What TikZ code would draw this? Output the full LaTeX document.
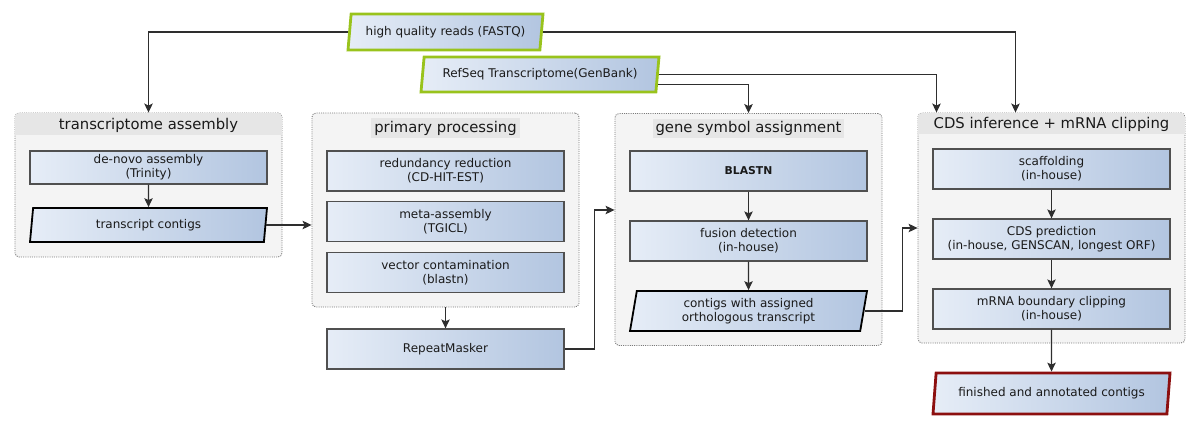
\documentclass[tikz,border=0pt]{standalone}
\usepackage{fontspec}
\setmainfont{DejaVu Sans}
\usetikzlibrary{shapes.geometric,calc,arrows.meta}
\definecolor{gradL}{HTML}{E6EDF7}
\definecolor{gradR}{HTML}{B2C5E0}
\definecolor{boxln}{HTML}{505050}
\definecolor{grpfl}{HTML}{F4F4F4}
\definecolor{grpbd}{HTML}{E6E6E6}
\definecolor{grpln}{HTML}{7A7A7A}
\definecolor{inpln}{HTML}{99C31C}
\definecolor{outln}{HTML}{8C0F0F}
\definecolor{conln}{HTML}{2E2E2E}
\definecolor{txt}{HTML}{1A1A1A}
\newcommand\bxf{\fontsize{12}{13.8}\selectfont}
\newcommand\bxbf{\fontsize{10.8}{13.8}\selectfont\bfseries}
\newcommand\hdf{\fontsize{14.8}{17}\selectfont}
\begin{document}
\begin{tikzpicture}[x=1pt,y=-1pt,
  grp/.style={draw=grpln, line width=0.9pt, dash pattern=on 1pt off 1.2pt, fill=grpfl, rounded corners=4pt, minimum width=267pt, inner sep=0pt},
  head/.style={font=\hdf, text=txt, inner sep=0pt},
  headbg/.style={head, fill=grpbd, inner xsep=3pt, inner ysep=2.5pt},
  procbox/.style={draw=boxln, line width=1.3pt, left color=gradL, right color=gradR, minimum width=237pt, minimum height=40pt, align=center, font=\bxf, text=txt, inner sep=0pt},
  para/.style={trapezium, trapezium left angle=75, trapezium right angle=105, trapezium stretches body, left color=gradL, right color=gradR, minimum width=237pt, minimum height=40pt, align=center, font=\bxf, text=txt, inner sep=0pt},
  datapara/.style={para, draw=black, line width=1.8pt},
  inpara/.style={para, draw=inpln, line width=2.8pt},
  outpara/.style={para, draw=outln, line width=2.8pt},
  conn/.style={draw=conln, line width=1.1pt, -{Stealth[length=9pt,width=8.5pt,inset=2pt]}},
]
\useasboundingbox (0,0) rectangle (1201,430);

% ---------- groups ----------
\node[grp, minimum height=144pt] (gt) at (148.5,185) {};
\node[grp, minimum height=194pt] (gp) at (445.5,210) {};
\node[grp, minimum height=232pt] (gg) at (748.5,229.5) {};
\node[grp, minimum height=230pt] (gc) at (1051.5,228) {};

% full-width title bands
\begin{scope}
  \clip[rounded corners=3.5pt] ($(gt.north west)+(0.6,0.6)$) rectangle ($(gt.south east)+(-0.6,-0.6)$);
  \fill[grpbd] (gt.north west) rectangle ($(gt.north east)+(0,22)$);
\end{scope}
\begin{scope}
  \clip[rounded corners=3.5pt] ($(gc.north west)+(0.6,0.6)$) rectangle ($(gc.south east)+(-0.6,-0.6)$);
  \fill[grpbd] (gc.north west) rectangle ($(gc.north east)+(0,21)$);
\end{scope}

\node[head] (ht) at ($(gt.north)+(0,13)$) {transcriptome assembly};
\node[headbg] (hp) at ($(gp.north)+(0,15.5)$) {primary processing};
\node[headbg] (hg) at ($(gg.north)+(0,15.5)$) {gene symbol assignment};
\node[head] (hc) at ($(gc.north)+(0,11.5)$) {CDS inference + mRNA clipping};

% ---------- inputs ----------
\node[inpara, minimum width=195pt, minimum height=36pt] (hq) at (445.5,32) {high quality reads (FASTQ)};
\node[inpara, minimum width=238pt, minimum height=35pt] (ref) at (540,74.5) {RefSeq Transcriptome(GenBank)};

% ---------- transcriptome assembly ----------
\node[procbox, minimum height=33pt] (dn) at (148.5,167.5) {de-novo assembly\\(Trinity)};
\node[datapara, minimum height=34pt] (tc) at (148.5,225) {transcript contigs};

% ---------- primary processing ----------
\node[procbox] (rr) at (445.5,171) {redundancy reduction\\(CD-HIT-EST)};
\node[procbox] (mr) at (445.5,221.5) {meta-assembly\\(TGICL)};
\node[procbox] (vc) at (445.5,272.5) {vector contamination\\(blastn)};
\node[procbox] (rm) at (445.5,349) {RepeatMasker};

% ---------- gene symbol assignment ----------
\node[procbox, font=\bxbf] (bl) at (748.5,171) {BLASTN};
\node[procbox] (fd) at (748.5,241) {fusion detection\\(in-house)};
\node[datapara] (ca) at (748.5,311) {contigs with assigned\\orthologous transcript};

% ---------- CDS inference ----------
\node[procbox] (sc) at (1051.5,169) {scaffolding\\(in-house)};
\node[procbox] (cp) at (1051.5,239) {CDS prediction\\(in-house, GENSCAN, longest ORF)};
\node[procbox] (mb) at (1051.5,309) {mRNA boundary clipping\\(in-house)};
\node[outpara, minimum height=41pt] (fin) at (1051.5,393.5) {finished and annotated contigs};

% ---------- connectors ----------
\draw[conn] (hq.west) -| (gt.north);
\draw[conn] (hq.east) -| ($(gc.north)+(-36,0)$);
\draw[conn] (ref.east) -| ($(gc.north)+(-115,0)$);
\coordinate (refb) at ($(ref.top right corner)!0.77!(ref.bottom right corner)$);
\draw[conn] (refb) -| (gg.north);

\draw[conn] (dn.south) -- (tc.north);
\draw[conn] (tc.east) -- (tc.east -| gp.west);
\draw[conn] (gp.south) -- (rm.north);
\draw[conn] (rm.east) -- ++(30,0) |- ($(gg.west)+(0,-19.5)$);

\draw[conn] (bl.south) -- (fd.north);
\draw[conn] (fd.south) -- (ca.north);
\draw[conn] (ca.east) -- ++(38,0) |- (gc.west);

\draw[conn] (sc.south) -- (cp.north);
\draw[conn] (cp.south) -- (mb.north);
\draw[conn] (mb.south) -- (fin.north);
\end{tikzpicture}
\end{document}
